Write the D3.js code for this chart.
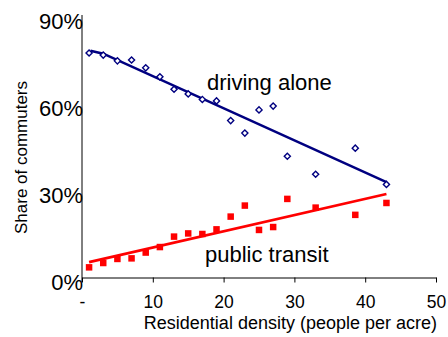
<!DOCTYPE html>
<html>
<head>
<meta charset="utf-8">
<script src="https://cdn.jsdelivr.net/npm/d3@7"></script>
<style>
  html, body { margin: 0; padding: 0; background: #fff; }
  svg { display: block; font-family: "Liberation Sans", Arial, sans-serif; }
</style>
</head>
<body>
<svg id="chart" width="448" height="337"></svg>
<script>
// ---- data ----
const density = [1, 3, 5, 7, 9, 11, 13, 15, 17, 19, 21, 23, 25, 27, 29, 33, 38.6, 43];
const drivingAlone = [77.4, 76.7, 74.7, 75.0, 72.3, 69.2, 64.9, 63.3, 61.4, 60.9, 54.1, 49.8, 57.8, 59.1, 41.8, 35.6, 44.6, 32.1];
const publicTransit = [3.5, 5.0, 6.4, 6.6, 8.6, 10.5, 14.1, 15.2, 15.0, 16.6, 21.0, 24.8, 16.4, 17.4, 27.1, 24.1, 21.6, 25.7];
const drivingTrendX = [1.2, 3, 43];
const drivingTrendY = [78.2, 77.2, 32.9];
const transitTrendX = [1, 43];
const transitTrendY = [5.3, 28.8];
const xTicks = [0, 10, 20, 30, 40, 50];
const xTickLabels = ["-", "10", "20", "30", "40", "50"];
const yTicks = [0, 30, 60, 90];
const yTickLabels = ["0%", "30%", "60%", "90%"];

const svg = d3.select("#chart");
const x = d3.scaleLinear().domain([0, 50]).range([82, 436]);
const y = d3.scaleLinear().domain([0, 90]).range([277.5, 16.5]);

const navy = "#000080", red = "#ff0000";

// ---- axes ----
const xAxis = d3.axisBottom(x).tickValues(xTicks)
  .tickFormat((d, i) => xTickLabels[i]).tickSize(5).tickSizeOuter(0);
const gx = svg.append("g").attr("transform", `translate(0,${y(0)})`).call(xAxis);
gx.select(".domain").attr("stroke", "#000");
gx.selectAll(".tick line").attr("stroke", "#000");
gx.selectAll(".tick text").attr("font-size", 17.5).attr("fill", "#000")
  .attr("dy", null).attr("y", 30.8);

const yAxis = d3.axisLeft(y).tickValues(yTicks)
  .tickFormat((d, i) => yTickLabels[i]).tickSize(0).tickSizeOuter(0).tickPadding(0);
const gy = svg.append("g").attr("transform", `translate(${x(0)},0)`).call(yAxis);
gy.select(".domain").attr("stroke", "#000").attr("d", `M0,${y(90) - 1.5}V${y(0) + 4.5}`);
gy.selectAll(".tick text").attr("font-size", 22).attr("fill", "#000")
  .attr("x", 1).attr("dy", null).attr("y", 11.8).attr("text-anchor", "end");

// ---- trend lines ----
const line = d3.line().x(d => x(d[0])).y(d => y(d[1]));
svg.append("path").datum(drivingTrendX.map((v, i) => [v, drivingTrendY[i]]))
  .attr("d", line).attr("fill", "none").attr("stroke", navy).attr("stroke-width", 2.6);
svg.append("path").datum(transitTrendX.map((v, i) => [v, transitTrendY[i]]))
  .attr("d", line).attr("fill", "none").attr("stroke", red).attr("stroke-width", 2.6);

// ---- markers ----
const diamond = d3.symbol().type(d3.symbolDiamond2).size(24);
svg.append("g").selectAll("path").data(density).join("path")
  .attr("d", diamond)
  .attr("transform", (d, i) => `translate(${x(d)},${y(drivingAlone[i])})`)
  .attr("fill", "#fff").attr("stroke", navy).attr("stroke-width", 1.4);

const sq = 6.5;
svg.append("g").selectAll("rect").data(density).join("rect")
  .attr("x", d => x(d) - sq / 2)
  .attr("y", (d, i) => y(publicTransit[i]) - sq / 2)
  .attr("width", sq).attr("height", sq).attr("fill", red);

// ---- labels ----
svg.append("text").attr("x", 207).attr("y", 90).attr("font-size", 22).attr("fill", "#000").text("driving alone");
svg.append("text").attr("x", 205).attr("y", 262).attr("font-size", 22).attr("fill", "#000").text("public transit");
svg.append("text").attr("x", 437).attr("y", 329).attr("font-size", 18).attr("text-anchor", "end").attr("fill", "#000")
  .text("Residential density (people per acre)");
svg.append("text").attr("transform", "translate(26.5,157.5) rotate(-90)").attr("font-size", 17)
  .attr("text-anchor", "middle").attr("fill", "#000").text("Share of commuters");
</script>
</body>
</html>
